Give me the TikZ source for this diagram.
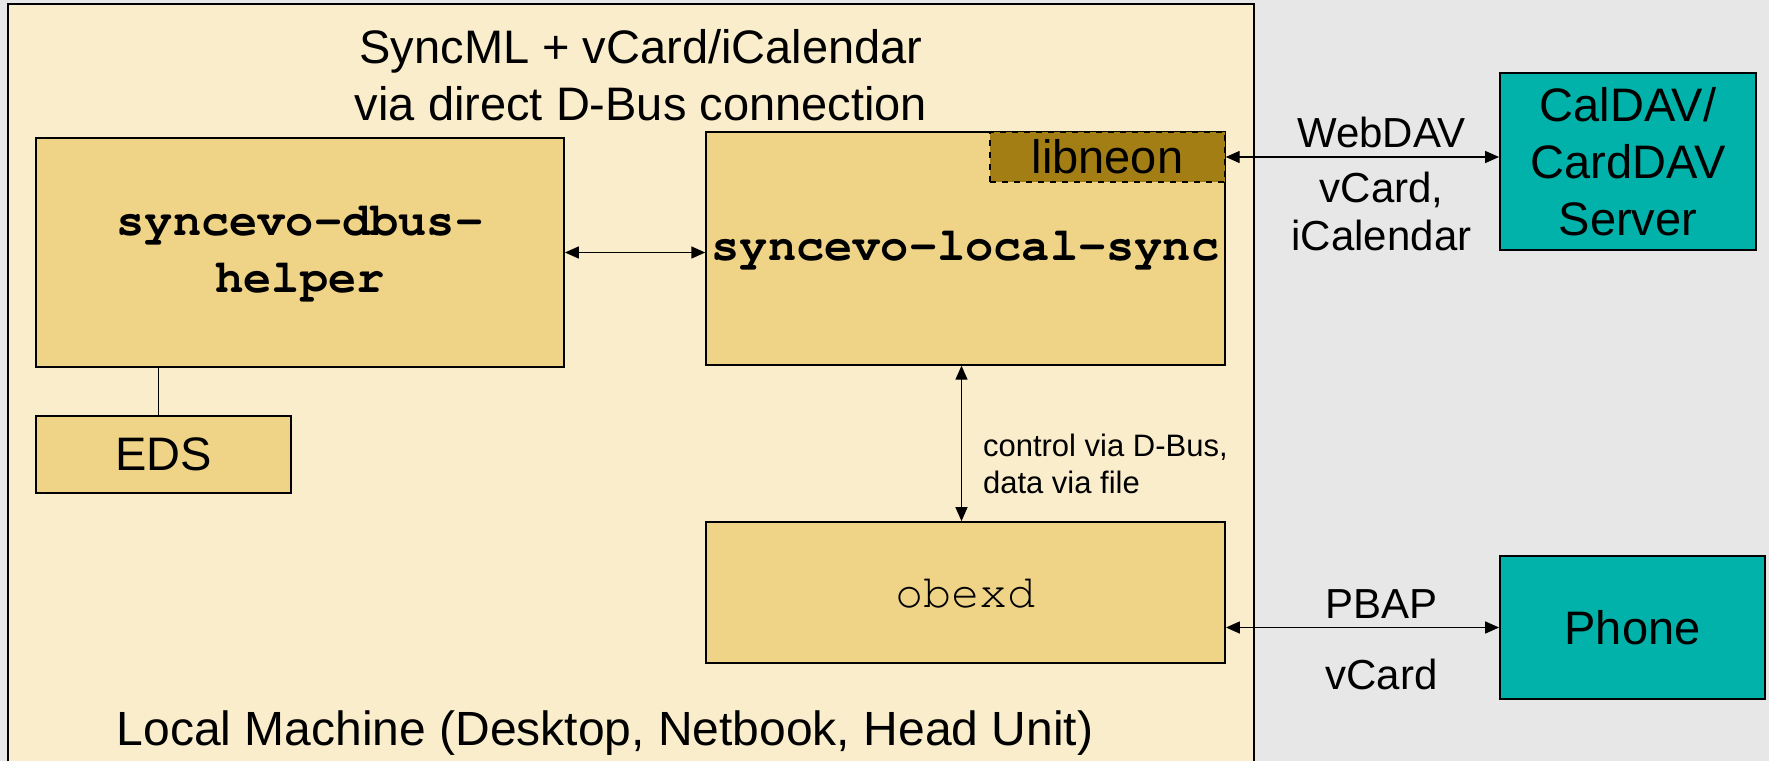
\documentclass[tikz,border=0pt]{standalone}
\usepackage{fontspec}
\setmainfont{Liberation Sans}
\setmonofont{Liberation Mono}
\usetikzlibrary{arrows.meta}

\definecolor{backgray}{HTML}{E7E7E7}
\definecolor{machinefill}{HTML}{F9EDCC}
\definecolor{boxfill}{HTML}{EFD488}
\definecolor{neonfill}{HTML}{A37E14}
\definecolor{serverfill}{HTML}{00B2A9}

\newcommand{\bigfont}{\fontsize{23.5}{28.5}\selectfont}
\newcommand{\midfont}{\fontsize{21}{24}\selectfont}
\newcommand{\smallfont}{\fontsize{15.5}{18.5}\selectfont}
\newcommand{\courierfont}{\fontencoding{T1}\fontfamily{pcr}\fontsize{23.5}{28.5}\selectfont}

\begin{document}
\begin{tikzpicture}[x=0.5pt,y=-0.5pt,
    box/.style={draw, line width=0.9pt, fill=boxfill, inner sep=0pt, align=center, font=\bigfont},
    server/.style={draw, line width=0.9pt, fill=serverfill, inner sep=0pt, align=center, font=\bigfont},
    link/.style={line width=0.7pt, {Triangle[length=7pt,width=6pt]}-{Triangle[length=7pt,width=6pt]}}]
    % background and local machine
    \fill[backgray] (0,0) rectangle (1769,761);
    \useasboundingbox (0,0) rectangle (1769,761);
    \draw[fill=machinefill, line width=0.8pt] (8,4) rectangle (1254,775);
    \node[align=center, font=\bigfont] (title) at (641,75) {SyncML + vCard/iCalendar\\via direct D-Bus connection};
    \node[font=\fontsize{24}{28.5}\selectfont] (machine) at (605,733) {Local Machine (Desktop, Netbook, Head Unit)};
    % components
    \node[box, minimum width=264pt, minimum height=114.5pt, font=\courierfont\bfseries] (helper) at (300,252.5) {syncevo-dbus-\\helper};
    \node[box, minimum width=127.5pt, minimum height=38.5pt] (eds) at (163.5,454.5) {EDS};
    \node[box, line width=0.7pt, minimum width=259.5pt, minimum height=116.5pt, font=\courierfont\bfseries] (local) at (965.5,248.5) {syncevo-local-sync};
    \node[box, fill=neonfill, dashed, line width=0.7pt, minimum width=117.5pt, minimum height=25pt] (libneon) at (1107.5,157) {libneon};
    \node[box, minimum width=259.5pt, minimum height=70.5pt, font=\courierfont] (obexd) at (965.5,592.5) {obexd};
    \node[server, minimum width=128pt, minimum height=88.5pt] (caldav) at (1628,161.5) {CalDAV/\\CardDAV\\Server};
    \node[server, minimum width=132.5pt, minimum height=71.5pt] (phone) at (1632.5,627.5) {Phone};
    % connections
    \draw[line width=0.6pt] (helper.south -| eds.north) ++(-5,0) coordinate (edsup) -- (edsup |- eds.north);
    \draw[link] (helper.east) -- (helper.east -| local.west);
    \draw[link] (local.south) ++(-4,0) coordinate (syncdown) -- (syncdown |- obexd.north);
    \node[anchor=west, align=left, font=\smallfont] (ctrl) at (976,464) {control via D-Bus,\\data via file};
    \draw[link] (libneon.east) -- (libneon.east -| caldav.west)
        node[pos=0.57, above=1pt, font=\midfont] (webdav) {WebDAV}
        node[pos=0.57, below=4pt, align=center, font=\midfont] (formats) {vCard,\\iCalendar};
    \draw[link] (obexd.east |- phone.west) -- (phone.west)
        node[pos=0.57, above=1pt, font=\midfont] (pbap) {PBAP}
        node[pos=0.57, below=12pt, font=\midfont] (vcard) {vCard};
\end{tikzpicture}
\end{document}
